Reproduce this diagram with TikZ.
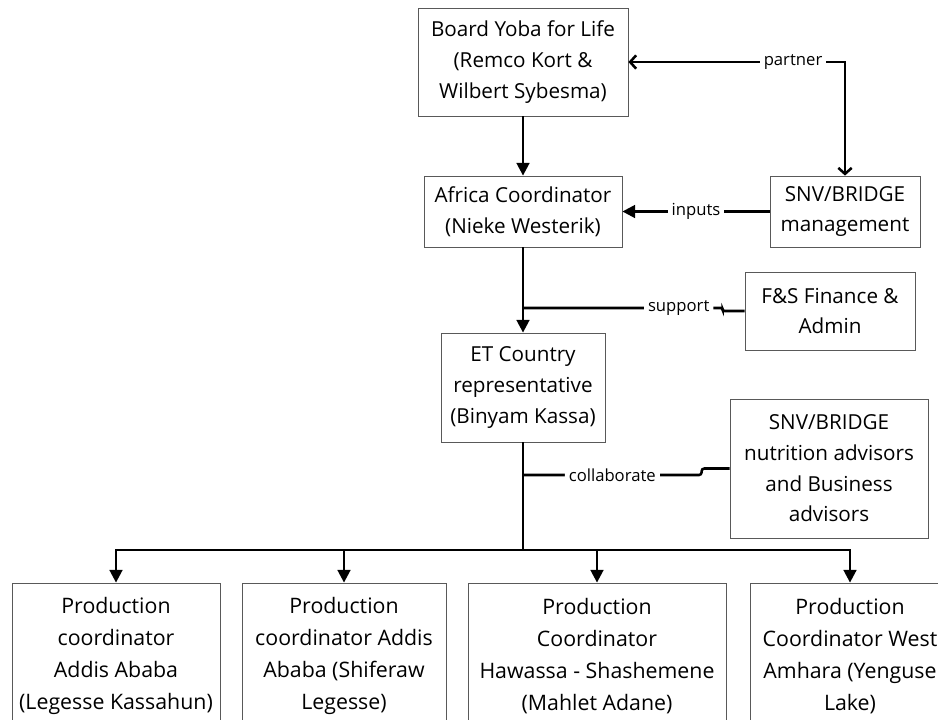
\documentclass[tikz,border=0pt]{standalone}
\usepackage{fontspec}
\setmainfont{Open Sans}
\usetikzlibrary{arrows.meta, positioning}

\begin{document}
\begin{tikzpicture}[x=0.75pt, y=-0.75pt, >={Triangle[width=9.5pt, length=9.5pt]},
  box/.style={draw=black!65, line width=0.6pt, align=center, inner sep=2pt, font=\fontsize{15.5}{23}\selectfont},
  prod/.style={box, minimum height=109.5pt, font=\fontsize{16}{24}\selectfont},
  link/.style={line width=1.9pt},
  lbl/.style={fill=white, inner sep=3pt, font=\fontsize{12.5}{14}\selectfont}]
\clip (0,0) rectangle (938,719);
\node[box, minimum width=157.5pt, minimum height=81pt] (board) at (523,62) {Board Yoba for Life\\(Remco Kort \&\\Wilbert Sybesma)};
\node[box, minimum width=148.5pt, minimum height=53.25pt] (africa) at (523,211.5) {Africa Coordinator\\(Nieke Westerik)};
\node[box, minimum width=112.5pt, minimum height=53.25pt] (snvm) at (845,211.5) {SNV/BRIDGE\\management};
\node[box, minimum width=127.5pt, minimum height=58.5pt] (fsa) at (830,311) {F\&S Finance \&\\Admin};
\node[box, minimum width=123pt, minimum height=81.75pt] (et) at (523,387.5) {ET Country\\representative\\(Binyam Kassa)};
\node[box, minimum width=148.5pt, minimum height=104.25pt] (snvn) at (829,468.5) {SNV/BRIDGE\\nutrition advisors\\and Business\\advisors};
\node[prod, minimum width=156pt] (p1) at (116,656) {Production\\coordinator\\Addis Ababa\\(Legesse Kassahun)};
\node[prod, minimum width=153pt] (p2) at (344,656) {Production\\coordinator Addis\\Ababa (Shiferaw\\Legesse)};
\node[prod, minimum width=193.5pt] (p3) at (597,656) {Production\\Coordinator\\Hawassa - Shashemene\\(Mahlet Adane)};
\node[prod, minimum width=150pt] (p4) at (850,656) {Production\\Coordinator West\\Amhara (Yenguse\\Lake)};
\coordinate (sj) at (523,308);
\coordinate (cj) at (523,475);
\coordinate (bus) at (523,550);
\draw[link, ->] (board) -- (africa);
\draw[link, {Straight Barb[width=10pt, length=4.5pt]}-{Straight Barb[width=10pt, length=4.5pt]}] (snvm.north) |- node[lbl, pos=0.62] {partner} (board.east);
\draw[link, ->] (snvm) -- node[lbl] {inputs} (africa);
\draw[link, ->] (africa) -- (et);
\draw[link, rounded corners=1.5pt] (fsa.west) -- ++(-22,0) |- node[lbl, pos=0.61] {support} (sj);
\draw[link, rounded corners=2pt] (snvn.west) -- ++(-28,0) |- node[lbl, pos=0.75] {collaborate} (cj);
\draw[link] (et) -- (bus);
\foreach \p in {p1,p2,p3,p4}
  \draw[link, ->] (bus) -| (\p.north);
\end{tikzpicture}
\end{document}
